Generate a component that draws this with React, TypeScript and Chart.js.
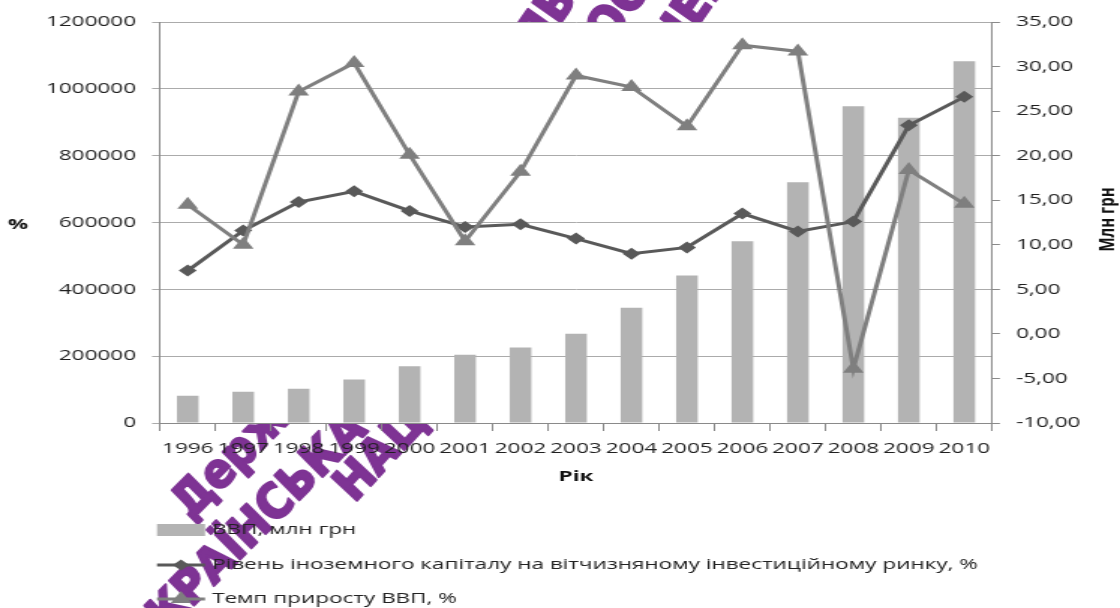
import React, { useEffect, useRef } from 'react';
import { Chart, registerables } from 'chart.js';

Chart.register(...registerables);

// ---- data ----
const years = ['1996', '1997', '1998', '1999', '2000', '2001', '2002', '2003', '2004', '2005', '2006', '2007', '2008', '2009', '2010'];
const gdpMlnUah = [81519, 93365, 102593, 130442, 170070, 204190, 225810, 267344, 345113, 441452, 544153, 720731, 948056, 913345, 1082569];
const foreignCapitalPct = [7.1, 11.6, 14.8, 16.0, 13.8, 12.0, 12.3, 10.7, 9.0, 9.7, 13.5, 11.5, 12.6, 23.4, 26.6];
const gdpGrowthPct = [14.5, 10.0, 27.2, 30.4, 20.1, 10.4, 18.2, 29.0, 27.7, 23.3, 32.4, 31.7, -3.9, 18.4, 14.6];

const seriesLabels = [
  'ВВП, млн грн',
  'Рівень іноземного капіталу на вітчизняному інвестиційному ринку, %',
  'Темп приросту ВВП, %',
];
const xTitle = 'Рік';
const leftTitle = '%';
const rightTitle = 'Млн грн';

// ---- layout (logical canvas is stretched horizontally, like the reference) ----
const W = 747;
const H = 608;
const S = 1120 / W;
const FONT = "'Open Sans', 'Noto Sans', sans-serif";

const watermarkPieces = [
  { text: 'Державна наукова', x: 182, y: 512, a: 45 },
  { text: 'УКРАЇНСЬКА НАЦІОНАЛЬНА', x: 134, y: 648, a: 45 },
  { text: 'НАЦІОНАЛЬНА', x: 345, y: 495, a: 47 },
  { text: 'ЛЬНА', x: 528, y: 48, a: 55 },
  { text: 'ЮОНА', x: 592, y: 52, a: 55 },
  { text: 'ЧЕКІ', x: 666, y: 50, a: 55 },
];

export default function App() {
  const ref = useRef<HTMLCanvasElement>(null);

  useEffect(() => {
    const canvas = ref.current;
    if (!canvas) return;

    const backgroundPlugin = {
      id: 'bgWatermark',
      beforeDraw(chart: any) {
        const { ctx, chartArea } = chart;
        ctx.save();
        ctx.fillStyle = '#ffffff';
        ctx.fillRect(0, 0, chart.width, chart.height);
        ctx.scale(1 / S, 1);
        ctx.fillStyle = '#7e3394';
        ctx.strokeStyle = '#7e3394';
        ctx.lineWidth = 2.5;
        ctx.lineJoin = 'round';
        ctx.font = "bold 48px 'DejaVu Sans Condensed', 'Liberation Sans Narrow', 'DejaVu Sans', sans-serif";
        ctx.textBaseline = 'middle';
        ctx.textAlign = 'left';
        for (const p of watermarkPieces) {
          ctx.save();
          ctx.translate(p.x, p.y);
          ctx.rotate((-p.a * Math.PI) / 180);
          ctx.fillText(p.text, 0, 0);
          ctx.strokeText(p.text, 0, 0);
          ctx.restore();
        }
        ctx.restore();
        ctx.save();
        ctx.fillStyle = '#ffffff';
        ctx.fillRect(chartArea.left, chartArea.top, chartArea.right - chartArea.left, chartArea.bottom - chartArea.top);
        ctx.restore();
      },
    };

    const drawDiamond = (ctx: CanvasRenderingContext2D, x: number, y: number, r: number) => {
      ctx.beginPath();
      ctx.moveTo(x - r, y);
      ctx.lineTo(x, y - r);
      ctx.lineTo(x + r, y);
      ctx.lineTo(x, y + r);
      ctx.closePath();
      ctx.fill();
    };
    const drawTriangle = (ctx: CanvasRenderingContext2D, x: number, y: number, r: number) => {
      ctx.beginPath();
      ctx.moveTo(x, y - r);
      ctx.lineTo(x + r * Math.cos(Math.PI / 6), y + r / 2);
      ctx.lineTo(x - r * Math.cos(Math.PI / 6), y + r / 2);
      ctx.closePath();
      ctx.fill();
    };

    const overlayPlugin = {
      id: 'legendTitles',
      afterDraw(chart: any) {
        const { ctx, chartArea } = chart;
        const ds = chart.data.datasets;
        ctx.save();
        // axis titles
        ctx.fillStyle = '#111';
        ctx.font = `bold 15px ${FONT}`;
        ctx.textAlign = 'center';
        ctx.textBaseline = 'middle';
        const midY = (chartArea.top + chartArea.bottom) / 2;
        ctx.fillText(leftTitle, 18 / S, midY + 2);
        ctx.save();
        ctx.translate(1107 / S, midY - 3);
        ctx.rotate(-Math.PI / 2);
        ctx.fillText(rightTitle, 0, 0);
        ctx.restore();

        // legend
        const x0 = 157 / S;
        const x1 = 205 / S;
        const tx = 212 / S;
        const rows = [530, 565, 599];
        ctx.fillStyle = ds[0].backgroundColor;
        ctx.fillRect(x0, rows[0] - 6, x1 - x0, 12);

        ctx.strokeStyle = ds[1].borderColor;
        ctx.lineWidth = 3;
        ctx.beginPath();
        ctx.moveTo(x0, rows[1]);
        ctx.lineTo(x1, rows[1]);
        ctx.stroke();
        ctx.fillStyle = ds[1].borderColor;
        drawDiamond(ctx, (x0 + x1) / 2, rows[1], 5.5);

        ctx.strokeStyle = ds[2].borderColor;
        ctx.beginPath();
        ctx.moveTo(x0, rows[2]);
        ctx.lineTo(x1, rows[2]);
        ctx.stroke();
        ctx.fillStyle = ds[2].borderColor;
        drawTriangle(ctx, (x0 + x1) / 2, rows[2], 8);

        ctx.fillStyle = '#222';
        ctx.font = `15px ${FONT}`;
        ctx.textAlign = 'left';
        ctx.textBaseline = 'middle';
        ds.forEach((d: any, i: number) => ctx.fillText(d.label, tx, rows[i]));
        ctx.restore();
      },
    };

    const chart = new Chart(canvas, {
      type: 'bar',
      data: {
        labels: years,
        datasets: [
          {
            type: 'bar',
            label: seriesLabels[0],
            data: gdpMlnUah,
            backgroundColor: '#b3b3b3',
            yAxisID: 'y',
            barPercentage: 0.39,
            categoryPercentage: 1,
            order: 3,
          },
          {
            type: 'line',
            label: seriesLabels[1],
            data: foreignCapitalPct,
            borderColor: '#595959',
            backgroundColor: '#595959',
            borderWidth: 3,
            pointStyle: 'rectRot',
            pointRadius: 6,
            pointBorderWidth: 0,
            yAxisID: 'y1',
            order: 2,
          },
          {
            type: 'line',
            label: seriesLabels[2],
            data: gdpGrowthPct,
            borderColor: '#7f7f7f',
            backgroundColor: '#7f7f7f',
            borderWidth: 3,
            pointStyle: 'triangle',
            pointRadius: 8,
            pointBorderWidth: 0,
            yAxisID: 'y1',
            order: 1,
          },
        ],
      } as any,
      options: {
        animation: false,
        responsive: false,
        devicePixelRatio: 1,
        layout: { padding: { top: 22, bottom: 110, left: 0, right: 0 } },
        plugins: {
          legend: { display: false },
          tooltip: { enabled: false },
        },
        scales: {
          x: {
            offset: true,
            grid: {
              offset: true,
              drawOnChartArea: false,
              drawTicks: true,
              tickLength: 8,
              color: '#8a8a8a',
            },
            border: { display: true, color: '#8a8a8a' },
            ticks: {
              color: '#1f1f1f',
              font: { family: FONT, size: 15 },
              padding: 9,
              maxRotation: 0,
              autoSkip: false,
            },
            title: {
              display: true,
              text: xTitle,
              color: '#111',
              font: { family: FONT, size: 15, weight: 'bold' },
              padding: { top: 0, bottom: 12 },
            },
            afterFit(scale: any) {
              scale.height = 75;
            },
          },
          y: {
            position: 'left',
            min: 0,
            max: 1200000,
            ticks: {
              stepSize: 200000,
              color: '#1f1f1f',
              font: { family: FONT, size: 15 },
              padding: 10.7,
              callback: (v: any) => String(v),
            },
            grid: { color: '#ababab', tickLength: 5.3 },
            border: { display: true, color: '#8a8a8a' },
            afterFit(scale: any) {
              scale.width = 160 / S;
            },
          },
          y1: {
            position: 'right',
            min: -10,
            max: 35,
            ticks: {
              stepSize: 5,
              color: '#1f1f1f',
              font: { family: FONT, size: 15 },
              padding: 10.7,
              callback: (v: any) => Number(v).toFixed(2).replace('.', ','),
            },
            grid: { drawOnChartArea: false, color: '#8a8a8a', tickLength: 5.3 },
            border: { display: true, color: '#8a8a8a' },
            afterFit(scale: any) {
              scale.width = W - 992 / S;
            },
          },
        },
      } as any,
      plugins: [backgroundPlugin, overlayPlugin],
    });

    return () => chart.destroy();
  }, []);

  return (
    <div style={{ position: 'fixed', left: 0, top: 0, width: 1120, height: 608, background: '#fff' }}>
      <canvas ref={ref} width={W} height={H} style={{ width: '1120px', height: '608px', display: 'block' }} />
    </div>
  );
}
